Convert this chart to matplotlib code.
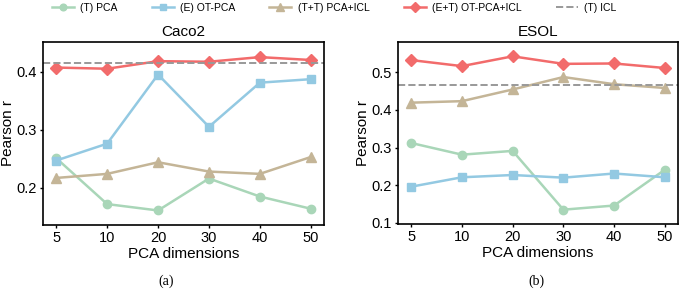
import matplotlib
matplotlib.use('Agg')
import matplotlib.pyplot as plt

plt.rcParams['font.family'] = ['Liberation Sans', 'DejaVu Sans']

# x categories
dims = ['5', '10', '20', '30', '40', '50']

# Caco2
caco_pca = [0.251, 0.172, 0.161, 0.216, 0.185, 0.164]
caco_ot = [0.247, 0.276, 0.395, 0.305, 0.381, 0.387]
caco_pca_icl = [0.217, 0.224, 0.244, 0.228, 0.224, 0.253]
caco_ot_icl = [0.407, 0.405, 0.418, 0.417, 0.425, 0.420]
caco_icl = 0.414

# ESOL
esol_pca = [0.312, 0.281, 0.291, 0.135, 0.146, 0.241]
esol_ot = [0.196, 0.221, 0.227, 0.220, 0.231, 0.221]
esol_pca_icl = [0.419, 0.423, 0.454, 0.487, 0.468, 0.458]
esol_ot_icl = [0.532, 0.516, 0.542, 0.522, 0.523, 0.511]
esol_icl = 0.465

green = '#a9d6b8'
blue = '#93c9e2'
tan = '#c4b597'
red = '#f26b6b'

fig = plt.figure(figsize=(6.82, 2.89), dpi=100)
ax1 = fig.add_axes([43 / 682, 1 - 225 / 289, 281 / 682, 183 / 289])
ax2 = fig.add_axes([398 / 682, 1 - 224 / 289, 280 / 682, 182 / 289])


def draw(ax, pca, ot, pca_icl, ot_icl, icl, title, ylim, yticks):
    x = range(len(dims))
    ax.plot(x, pca, color=green, marker='o', markersize=6, lw=1.8, label='(T) PCA')
    ax.plot(x, ot, color=blue, marker='s', markersize=6, lw=1.8, label='(E) OT-PCA')
    ax.plot(x, pca_icl, color=tan, marker='^', markersize=6.5, lw=1.8, label='(T+T) PCA+ICL')
    ax.plot(x, ot_icl, color=red, marker='D', markersize=6, lw=1.8, label='(E+T) OT-PCA+ICL')
    ax.axhline(icl, color='#999999', ls='--', lw=1.4, label='(T) ICL')
    ax.set_xticks(list(x))
    ax.set_xticklabels(dims)
    ax.set_xlim(-0.26, 5.26)
    ax.set_ylim(*ylim)
    ax.set_yticks(yticks)
    ax.set_title(title, fontsize=11, pad=4)
    ax.set_xlabel('PCA dimensions', fontsize=11, labelpad=1)
    ax.set_ylabel('Pearson r', fontsize=11, labelpad=1)
    ax.tick_params(labelsize=10.5, length=2.5, width=1, pad=2)
    for s in ax.spines.values():
        s.set_linewidth(1.2)


draw(ax1, caco_pca, caco_ot, caco_pca_icl, caco_ot_icl, caco_icl, 'Caco2',
     (0.136, 0.451), [0.2, 0.3, 0.4])
draw(ax2, esol_pca, esol_ot, esol_pca_icl, esol_ot_icl, esol_icl, 'ESOL',
     (0.097, 0.58), [0.1, 0.2, 0.3, 0.4, 0.5])

handles, labels = ax1.get_legend_handles_labels()
fig.legend(handles, labels, loc='center', bbox_to_anchor=(334 / 682, 1 - 8 / 289), ncol=5,
           frameon=False, fontsize=7.5, columnspacing=3.3, handlelength=2.1, handletextpad=0.6,
           markerscale=0.8, borderpad=0)

fig.text(166 / 682, 1 - 281 / 289, '(a)', ha='center', va='center', fontsize=10,
         family=['Liberation Serif', 'DejaVu Serif'])
fig.text(536 / 682, 1 - 281 / 289, '(b)', ha='center', va='center', fontsize=10,
         family=['Liberation Serif', 'DejaVu Serif'])

fig.savefig('out.png', dpi=100)
